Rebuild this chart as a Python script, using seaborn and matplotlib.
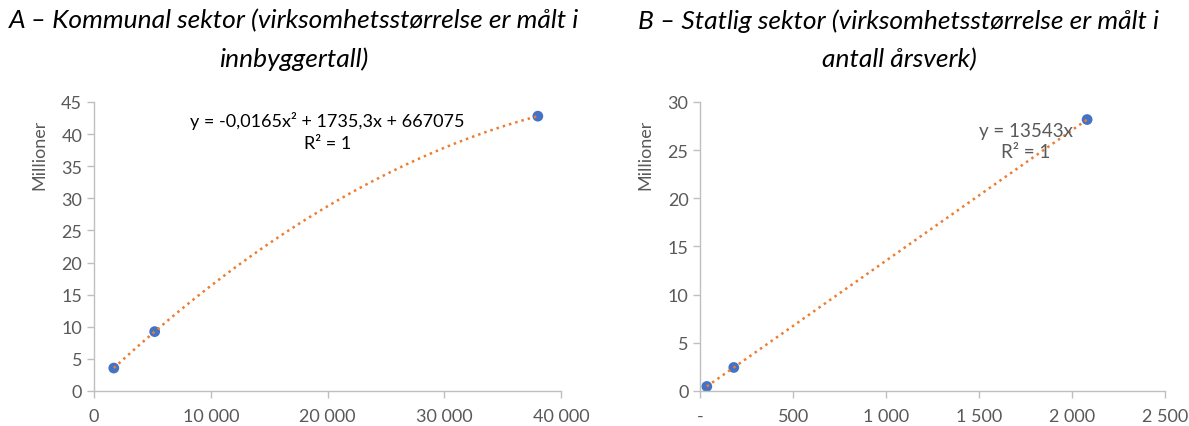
import numpy as np
import pandas as pd
import matplotlib
matplotlib.use("Agg")
import matplotlib.pyplot as plt
import seaborn as sns
from matplotlib.ticker import FuncFormatter

# Data
a_x = [1700, 5200, 38000]
a_y = [3.57e6, 9.24e6, 42.78e6]
b_x = [35, 180, 2080]
b_y = [0.47e6, 2.44e6, 28.17e6]

title_a = "A – Kommunal sektor (virksomhetsstørrelse er målt i\ninnbyggertall)"
title_b = "B – Statlig sektor (virksomhetsstørrelse er målt i\nantall årsverk)"
eq_a = "y = -0,0165x² + 1735,3x + 667075\nR² = 1"
eq_b = "y = 13543x\nR² = 1"

sns.set_theme(style="white")
plt.rcParams['font.family'] = ['Lato', 'DejaVu Sans']

GRAY = "#595959"
SPINE = "#BFBFBF"
BLUE = "#4472C4"
ORANGE = "#ED7D31"

fig = plt.figure(figsize=(11.89, 4.27), dpi=100)
axA = fig.add_axes([0.079, 0.082, 0.393, 0.677])
axB = fig.add_axes([0.589, 0.082, 0.391, 0.677])

dfA = pd.DataFrame({"x": a_x, "y": np.array(a_y) / 1e6})
dfB = pd.DataFrame({"x": b_x, "y": np.array(b_y) / 1e6})

# Panel A: quadratic trend
sns.regplot(data=dfA, x="x", y="y", order=2, ci=None, ax=axA,
            scatter_kws=dict(color=BLUE, s=60, zorder=2, edgecolor="none", alpha=1),
            line_kws=dict(color=ORANGE, ls=(0, (1, 1.6)), lw=1.8, zorder=3))

# Panel B: linear trend through origin
slope = np.sum(dfB.x * dfB.y) / np.sum(dfB.x ** 2)
xs = np.linspace(min(b_x), max(b_x), 50)
sns.scatterplot(data=dfB, x="x", y="y", ax=axB, color=BLUE, s=60,
                edgecolor="none", zorder=2)
sns.lineplot(x=xs, y=slope * xs, ax=axB, color=ORANGE, ls=(0, (1, 1.6)),
             lw=1.8, zorder=3)

def thousands(v, pos):
    return f"{int(v):,}".replace(",", " ")

def thousands_dash(v, pos):
    if v == 0:
        return "-"
    return f"{int(v):,}".replace(",", " ")

axA.set_xlim(0, 40000)
axA.set_ylim(0, 45)
axA.set_xticks(range(0, 40001, 10000))
axA.set_yticks(range(0, 46, 5))
axA.xaxis.set_major_formatter(FuncFormatter(thousands))

axB.set_xlim(0, 2500)
axB.set_ylim(0, 30)
axB.set_xticks(range(0, 2501, 500))
axB.set_yticks(range(0, 31, 5))
axB.xaxis.set_major_formatter(FuncFormatter(thousands_dash))

for ax in (axA, axB):
    ax.set_xlabel("")
    ax.set_ylabel("Millioner", color=GRAY, fontsize=13)
    ax.yaxis.set_label_coords(-0.10, 0.82)
    for s in ("top", "right"):
        ax.spines[s].set_visible(False)
    for s in ("left", "bottom"):
        ax.spines[s].set_color(SPINE)
        ax.spines[s].set_linewidth(1)
    ax.tick_params(axis="both", colors=SPINE, labelcolor=GRAY, labelsize=13,
                   direction="out", length=5, width=1, bottom=True, left=True)
    ax.tick_params(axis="x", pad=7)

# Chart titles, centred on each chart area
fig.text(0.247, 0.906, title_a, ha="center", va="center", fontsize=19,
         style="italic", color="black", linespacing=1.75)
fig.text(0.756, 0.906, title_b, ha="center", va="center", fontsize=19,
         style="italic", color="black", linespacing=1.75)

axA.text(0.50, 0.90, eq_a, transform=axA.transAxes, ha="center", va="center",
         fontsize=13, color="black", linespacing=1.45)
axB.text(0.70, 0.865, eq_b, transform=axB.transAxes, ha="center", va="center",
         fontsize=13.5, color=GRAY, linespacing=1.3)

fig.savefig("out.png", dpi=100)
